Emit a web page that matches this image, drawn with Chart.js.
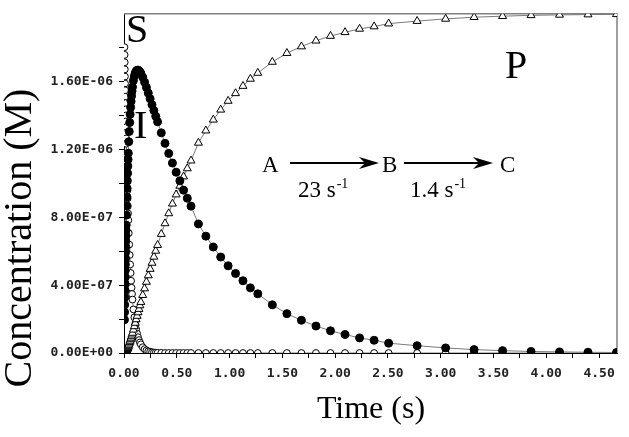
<!DOCTYPE html>
<html lang="en">
<head>
<meta charset="UTF-8">
<title>A - B - C kinetics</title>
<script src="https://cdn.jsdelivr.net/npm/chart.js@4"></script>
<style>
  body { margin: 0; background: #fff; }
  #wrap { width: 629px; height: 437px; }
</style>
</head>
<body>
<div id="wrap"><canvas id="chart" width="629" height="437"></canvas></div>
<script>
// time points (s)
const times = [
  0.0045, 0.0056, 0.0067, 0.0078, 0.0089, 0.0100, 0.0111, 0.0122, 0.0133, 0.0144, 0.0155, 0.0166, 0.0177, 0.0188, 0.0199, 0.0210,
  0.0232, 0.0254, 0.0276, 0.0298, 0.0320, 0.0342, 0.0364, 0.0386, 0.0408,
  0.0452, 0.0496, 0.0540, 0.0584, 0.0628, 0.0672, 0.0716, 0.0760, 0.0804,
  0.0892, 0.0980, 0.1068, 0.1156, 0.1244, 0.1332, 0.1420, 0.1508, 0.1596,
  0.1772, 0.1948, 0.2124, 0.2300, 0.2476, 0.2652, 0.2828, 0.3004, 0.3180,
  0.3532, 0.3884, 0.4236, 0.4588, 0.4940, 0.5292, 0.5644, 0.5996, 0.6348,
  0.7051, 0.7754, 0.8457, 0.9160, 0.9863, 1.0566, 1.1269, 1.1972, 1.2675,
  1.4052, 1.5429, 1.6806, 1.8183, 1.9560, 2.0937, 2.2314, 2.3691, 2.5068,
  2.7766, 3.0464, 3.3162, 3.5860, 3.8558, 4.1256, 4.3954, 4.6652
];

// concentrations in micromolar
const substrate = [ // S, open circles
  1.803, 1.758, 1.714, 1.672, 1.630, 1.589, 1.549, 1.511, 1.473, 1.436, 1.400, 1.365, 1.331, 1.298, 1.265, 1.234,
  1.173, 1.115, 1.060, 1.008, 0.958, 0.911, 0.866, 0.823, 0.783,
  0.707, 0.639, 0.578, 0.522, 0.472, 0.426, 0.385, 0.348, 0.315,
  0.257, 0.210, 0.171, 0.140, 0.114, 0.093, 0.076, 0.062, 0.051,
  0.034, 0.023, 0.015, 0.010, 0.007, 0.004, 0.003, 0.002, 0.001,
  0.001, 0, 0, 0, 0, 0, 0, 0, 0,
  0, 0, 0, 0, 0, 0, 0, 0, 0,
  0, 0, 0, 0, 0, 0, 0, 0, 0,
  0, 0, 0, 0, 0, 0, 0, 0
];
const intermediate = [ // I, filled circles
  0.196, 0.241, 0.284, 0.327, 0.368, 0.408, 0.447, 0.485, 0.522, 0.558, 0.593, 0.627, 0.660, 0.692, 0.724, 0.754,
  0.813, 0.868, 0.920, 0.970, 1.016, 1.060, 1.102, 1.141, 1.178,
  1.246, 1.306, 1.359, 1.407, 1.448, 1.484, 1.516, 1.544, 1.568,
  1.606, 1.633, 1.651, 1.662, 1.667, 1.668, 1.664, 1.658, 1.649,
  1.626, 1.597, 1.566, 1.533, 1.499, 1.464, 1.430, 1.396, 1.363,
  1.298, 1.236, 1.177, 1.120, 1.066, 1.015, 0.960, 0.912, 0.866,
  0.761, 0.689, 0.625, 0.566, 0.514, 0.469, 0.426, 0.384, 0.349,
  0.284, 0.232, 0.193, 0.159, 0.131, 0.109, 0.089, 0.075, 0.058,
  0.043, 0.030, 0.020, 0.014, 0.009, 0.0065, 0.0045, 0.003
];
const product = [ // P, open triangles
  0.001, 0.001, 0.001, 0.002, 0.002, 0.003, 0.004, 0.004, 0.005, 0.006, 0.007, 0.008, 0.009, 0.010, 0.011, 0.012,
  0.014, 0.017, 0.020, 0.023, 0.026, 0.029, 0.032, 0.036, 0.039,
  0.047, 0.055, 0.063, 0.071, 0.080, 0.089, 0.098, 0.108, 0.118,
  0.137, 0.157, 0.177, 0.198, 0.218, 0.239, 0.259, 0.280, 0.300,
  0.341, 0.380, 0.419, 0.457, 0.495, 0.531, 0.567, 0.602, 0.636,
  0.701, 0.764, 0.823, 0.880, 0.934, 0.985, 1.040, 1.088, 1.134,
  1.239, 1.311, 1.375, 1.434, 1.486, 1.531, 1.574, 1.616, 1.651,
  1.716, 1.768, 1.807, 1.841, 1.869, 1.891, 1.911, 1.925, 1.942,
  1.957, 1.970, 1.980, 1.986, 1.991, 1.9935, 1.9955, 1.997
];

const xTickLabels = ['0.00', '0.50', '1.00', '1.50', '2.00', '2.50', '3.00', '3.50', '4.00', '4.50'];
const xMinorTicks = [0.25, 0.75, 1.25, 1.75, 2.25, 2.75, 3.25, 3.75, 4.25];
const yTickLabels = ['0.00E+00', '4.00E-07', '8.00E-07', '1.20E-06', '1.60E-06'];
const yMinorTicks = [2e-7, 6e-7, 1e-6, 1.4e-6, 1.8e-6];

const UM = 1e-6;
const toPoints = vals => vals.map((v, i) => ({ x: times[i], y: v * UM }));

function labelFor(labels, value, tol) {
  const hit = labels.find(l => Math.abs(parseFloat(l) - value) < tol);
  return hit || '';
}

const serif = '"Liberation Serif", "DejaVu Serif", serif';
const mono = '"DejaVu Sans Mono", monospace';

function arrow(ctx, x1, x2, y) {
  ctx.beginPath();
  ctx.lineWidth = 2;
  ctx.moveTo(x1, y);
  ctx.lineTo(x2 - 10, y);
  ctx.stroke();
  ctx.beginPath();
  ctx.moveTo(x2, y);
  ctx.lineTo(x2 - 20, y - 6);
  ctx.lineTo(x2 - 14, y);
  ctx.lineTo(x2 - 20, y + 6);
  ctx.closePath();
  ctx.fill();
}

function rateText(ctx, main, x, y) {
  ctx.font = '23px ' + serif;
  ctx.fillText(main, x, y);
  const w = ctx.measureText(main).width;
  ctx.font = '14px ' + serif;
  ctx.fillText('-1', x + w + 1, y - 9);
}

const frame = {
  id: 'frame',
  beforeDatasetsDraw(chart) {
    const { left, right, top, bottom } = chart.chartArea;
    const ctx = chart.ctx;
    ctx.save();
    ctx.strokeStyle = '#808080';
    ctx.lineWidth = 1.5;
    ctx.beginPath();
    ctx.moveTo(left, top);
    ctx.lineTo(right, top);
    ctx.lineTo(right, bottom);
    ctx.stroke();
    ctx.restore();
  },
  afterDraw(chart) {
    const ctx = chart.ctx;
    ctx.save();
    ctx.fillStyle = '#000';
    ctx.strokeStyle = '#000';
    ctx.textBaseline = 'alphabetic';

    // axis titles
    ctx.font = '32px ' + serif;
    ctx.textAlign = 'center';
    ctx.fillText('Time (s)', 371, 418);
    ctx.save();
    ctx.translate(31, 238);
    ctx.rotate(-Math.PI / 2);
    ctx.font = '40px ' + serif;
    ctx.fillText('Concentration (M)', 0, 0);
    ctx.restore();

    // species labels
    ctx.textAlign = 'left';
    ctx.font = '40px ' + serif;
    ctx.fillText('S', 126, 42);
    ctx.fillText('I', 134, 138);
    ctx.fillText('P', 505, 78);

    // reaction scheme
    ctx.font = '23px ' + serif;
    ctx.fillText('A', 262, 172);
    ctx.fillText('B', 382, 172);
    ctx.fillText('C', 500, 172);
    arrow(ctx, 290, 379, 163);
    arrow(ctx, 404, 493, 163);
    rateText(ctx, '23 s', 298, 197);
    rateText(ctx, '1.4 s', 410, 197);
    ctx.restore();
  }
};

const lineColor = '#7a7a7a';

new Chart(document.getElementById('chart'), {
  type: 'scatter',
  data: {
    datasets: [
      {
        label: 'I',
        data: toPoints(intermediate),
        showLine: true,
        borderColor: lineColor,
        borderWidth: 1,
        pointStyle: 'circle',
        pointRadius: 4,
        pointBackgroundColor: '#000',
        pointBorderColor: '#000',
        pointBorderWidth: 1
      },
      {
        label: 'P',
        data: toPoints(product),
        showLine: true,
        borderColor: lineColor,
        borderWidth: 1,
        pointStyle: 'triangle',
        pointRadius: 4.6,
        pointBackgroundColor: '#fff',
        pointBorderColor: '#000',
        pointBorderWidth: 1
      },
      {
        label: 'S',
        data: toPoints(substrate),
        showLine: true,
        borderColor: lineColor,
        borderWidth: 1,
        pointStyle: 'circle',
        pointRadius: 3.4,
        pointBackgroundColor: '#fff',
        pointBorderColor: '#000',
        pointBorderWidth: 1
      }
    ]
  },
  options: {
    responsive: false,
    animation: false,
    layout: { padding: { top: 11, right: 12, bottom: 0, left: 0 } },
    plugins: { legend: { display: false }, tooltip: { enabled: false } },
    scales: {
      x: {
        type: 'linear',
        min: 0,
        max: 4.67,
        afterBuildTicks: scale => {
          const vals = xTickLabels.map(parseFloat).concat(xMinorTicks).sort((a, b) => a - b);
          scale.ticks = vals.map(v => ({ value: v }));
        },
        afterFit: scale => { scale.height = 84; },
        ticks: {
          autoSkip: false,
          maxRotation: 0,
          padding: 8,
          color: '#222',
          font: { family: mono, size: 13, weight: 'bold' },
          callback: value => labelFor(xTickLabels, value, 1e-6)
        },
        grid: { display: true, drawOnChartArea: false, drawTicks: true, tickLength: 5, color: '#000' },
        border: { display: true, color: '#000', width: 1 }
      },
      y: {
        type: 'linear',
        min: 0,
        max: 2.0e-6,
        afterBuildTicks: scale => {
          const vals = yTickLabels.map(parseFloat).concat(yMinorTicks).sort((a, b) => a - b);
          scale.ticks = vals.map(v => ({ value: v }));
        },
        afterFit: scale => { scale.width = 124; },
        ticks: {
          autoSkip: false,
          padding: 6,
          color: '#222',
          font: { family: mono, size: 13, weight: 'bold' },
          callback: value => labelFor(yTickLabels, value, 1e-12)
        },
        grid: { display: true, drawOnChartArea: false, drawTicks: true, tickLength: 5, color: '#000' },
        border: { display: true, color: '#000', width: 1 }
      }
    }
  },
  plugins: [frame]
});
</script>
</body>
</html>
